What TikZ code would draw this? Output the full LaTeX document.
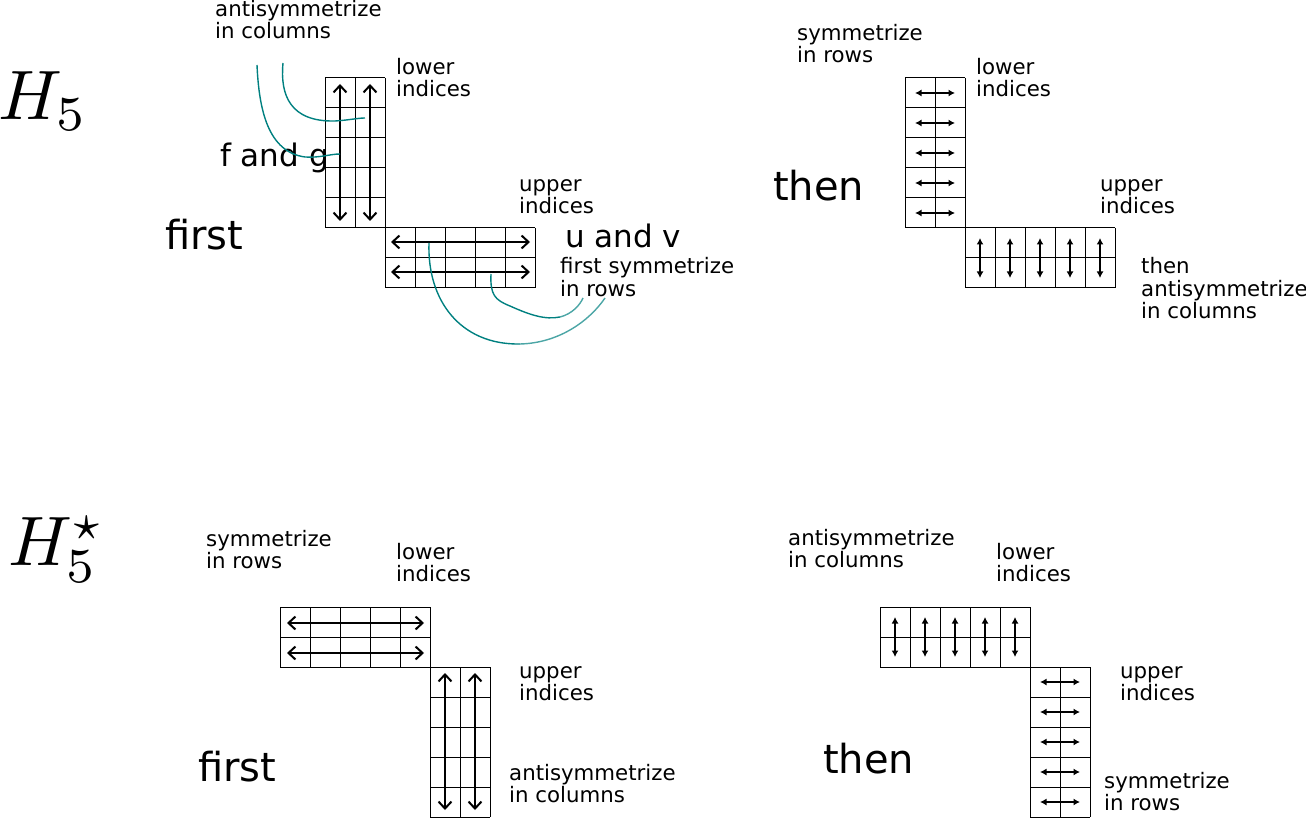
\documentclass[tikz,border=0pt]{standalone}
\usepackage{graphicx}
\usepackage{fontspec}
\setmainfont{DejaVu Sans}
\usetikzlibrary{arrows.meta}
\definecolor{tealc}{RGB}{0,128,128}
\tikzset{
  smalltxt/.style={font=\fontsize{21.3}{22}\selectfont, inner sep=0pt, anchor=base west, align=left},
  midtxt/.style={font=\fontsize{31}{34}\selectfont, inner sep=0pt, anchor=base west},
  bigtxt/.style={font=\fontsize{40}{44}\selectfont, inner sep=0pt, anchor=base west},
  htxt/.style={inner sep=0pt, anchor=base west},
  cellgrid/.style={line width=1pt, black},
  longarr/.style={line width=2pt, {Straight Barb[length=7pt,width=13pt]}-{Straight Barb[length=7pt,width=13pt]}},
  shortarr/.style={line width=2pt, {Latex[length=6.5pt,width=7pt]}-{Latex[length=6.5pt,width=7pt]}},
  lead/.style={tealc, line width=1.4pt},
}
\newcommand{\tabgrid}[4]{%
  \foreach \i in {0,...,#3} \draw[cellgrid] ({#1+30*\i},#2) -- ({#1+30*\i},{#2+30*#4});
  \foreach \j in {0,...,#4} \draw[cellgrid] (#1,{#2+30*\j}) -- ({#1+30*#3},{#2+30*\j});
}
\begin{document}
\begin{tikzpicture}[x=1pt,y=-1pt]
\useasboundingbox (0,0) rectangle (1306,818);
% ---------------- top left ----------------
\node[htxt] (h5) at (-2,120) {\scalebox{7}{$H_5$}};
\tabgrid{325}{78}{2}{5}
\tabgrid{385}{228}{5}{2}
\draw[longarr] (340,84) -- (340,221);
\draw[longarr] (370,84) -- (370,221);
\draw[longarr] (391,242) -- (530,242);
\draw[longarr] (391,272) -- (530,272);
\node[smalltxt] (tl1) at (215,39) {antisymmetrize\\in columns};
\node[smalltxt] (tl2) at (396,97) {lower\\indices};
\node[midtxt] (tl3) at (220,167) {f and g};
\node[bigtxt] (tl4) at (165,250) {first};
\node[smalltxt] (tl5) at (519,214) {upper\\indices};
\node[midtxt] (tl6) at (565,248) {u and v};
\node[smalltxt] (tl7) at (560,296) {first symmetrize\\in rows};
\draw[lead] (257,65) .. controls (259,110) and (268,152) .. (305,157) .. controls (320,158) and (330,154) .. (340,154);
\draw[lead] (283,63) .. controls (280,95) and (290,122) .. (335,121) .. controls (350,120) and (358,118) .. (365,118);
\draw[lead] (429,243) .. controls (427,300) and (460,345) .. (520,344);
\draw[lead, tealc!70] (520,344) .. controls (560,343) and (590,320) .. (605,298);
\draw[lead] (491,274) .. controls (490,295) and (495,300) .. (510,306) .. controls (530,315) and (545,320) .. (560,317);
\draw[lead, tealc!70] (560,317) .. controls (572,314) and (580,305) .. (583,298);
% ---------------- top right ----------------
\tabgrid{905}{78}{2}{5}
\tabgrid{965}{228}{5}{2}
\foreach \j in {0,...,4} \draw[shortarr] (915,{93+30*\j}) -- (955,{93+30*\j});
\foreach \i in {0,...,4} \draw[shortarr] ({980+30*\i},238) -- ({980+30*\i},278);
\node[smalltxt] (tr1) at (797,63) {symmetrize\\in rows};
\node[smalltxt] (tr2) at (976,97) {lower\\indices};
\node[bigtxt] (tr3) at (773,201) {then};
\node[smalltxt] (tr4) at (1100,214) {upper\\indices};
\node[smalltxt] (tr5) at (1141,318) {then\\antisymmetrize\\in columns};
% ---------------- bottom left ----------------
\node[htxt] (h5s) at (8,565) {\scalebox{7}{$H_5^\star$}};
\tabgrid{280}{607}{5}{2}
\tabgrid{430}{667}{2}{5}
\draw[longarr] (287,623) -- (424,623);
\draw[longarr] (287,653) -- (424,653);
\draw[longarr] (445,673) -- (445,810);
\draw[longarr] (475,673) -- (475,810);
\node[smalltxt] (bl1) at (206,568) {symmetrize\\in rows};
\node[smalltxt] (bl2) at (396,581) {lower\\indices};
\node[smalltxt] (bl3) at (519,700) {upper\\indices};
\node[bigtxt] (bl4) at (198,781) {first};
\node[smalltxt] (bl5) at (509,802) {antisymmetrize\\in columns};
% ---------------- bottom right ----------------
\tabgrid{880}{607}{5}{2}
\tabgrid{1030}{667}{2}{5}
\foreach \i in {0,...,4} \draw[shortarr] ({895+30*\i},617) -- ({895+30*\i},657);
\foreach \j in {0,...,4} \draw[shortarr] (1040,{682+30*\j}) -- (1080,{682+30*\j});
\node[smalltxt] (br1) at (788,567) {antisymmetrize\\in columns};
\node[smalltxt] (br2) at (996,581) {lower\\indices};
\node[smalltxt] (br3) at (1120,700) {upper\\indices};
\node[bigtxt] (br4) at (823,773) {then};
\node[smalltxt] (br5) at (1104,810) {symmetrize\\in rows};
\end{tikzpicture}
\end{document}
